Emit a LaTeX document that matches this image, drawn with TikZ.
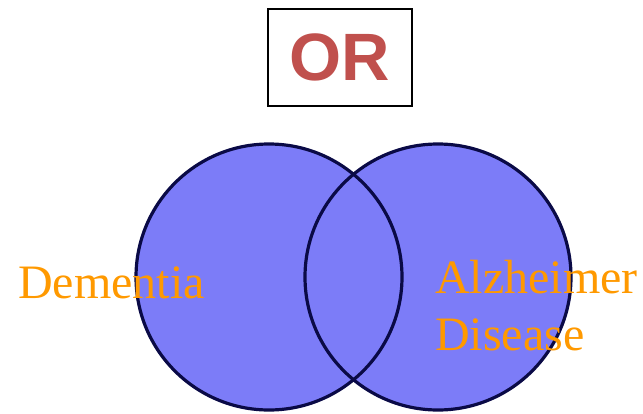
\documentclass[tikz,border=0pt]{standalone}
\usepackage{fontspec}
\setmainfont{Liberation Serif}
\newfontfamily\orfont{Liberation Sans}
\definecolor{vennfill}{RGB}{124,124,248}
\definecolor{vennline}{RGB}{10,10,70}
\definecolor{ortext}{RGB}{192,80,77}
\definecolor{labeltext}{RGB}{255,153,0}
\begin{document}
\begin{tikzpicture}[x=1pt,y=-1pt,
  vennset/.style={circle,minimum size=266pt,inner sep=0pt,fill=vennfill},
  vennring/.style={circle,minimum size=266pt,inner sep=0pt,draw=vennline,line width=3.2pt},
  setlabel/.style={text=labeltext,font=\fontsize{48}{57}\selectfont,inner sep=0pt,anchor=base west,align=left}]
\useasboundingbox (0,0) rectangle (643,413);
\node[vennset] (left) at (269,277) {};
\node[vennset] (right) at (438,277) {};
\node[vennring] (leftring) at (269,277) {};
\node[vennring] (rightring) at (438,277) {};
\node[draw=black,line width=2pt,minimum width=144pt,minimum height=97pt,inner sep=0pt,
  text=ortext,font=\orfont\bfseries\fontsize{67}{67}\selectfont] (or) at (339.5,57) {\raisebox{-2pt}{OR}};
\node[setlabel] (dementia) at (18,298) {Dementia};
\node[setlabel,anchor=west] (alz) at (435,306) {Alzheimer\\Disease};
\end{tikzpicture}
\end{document}
